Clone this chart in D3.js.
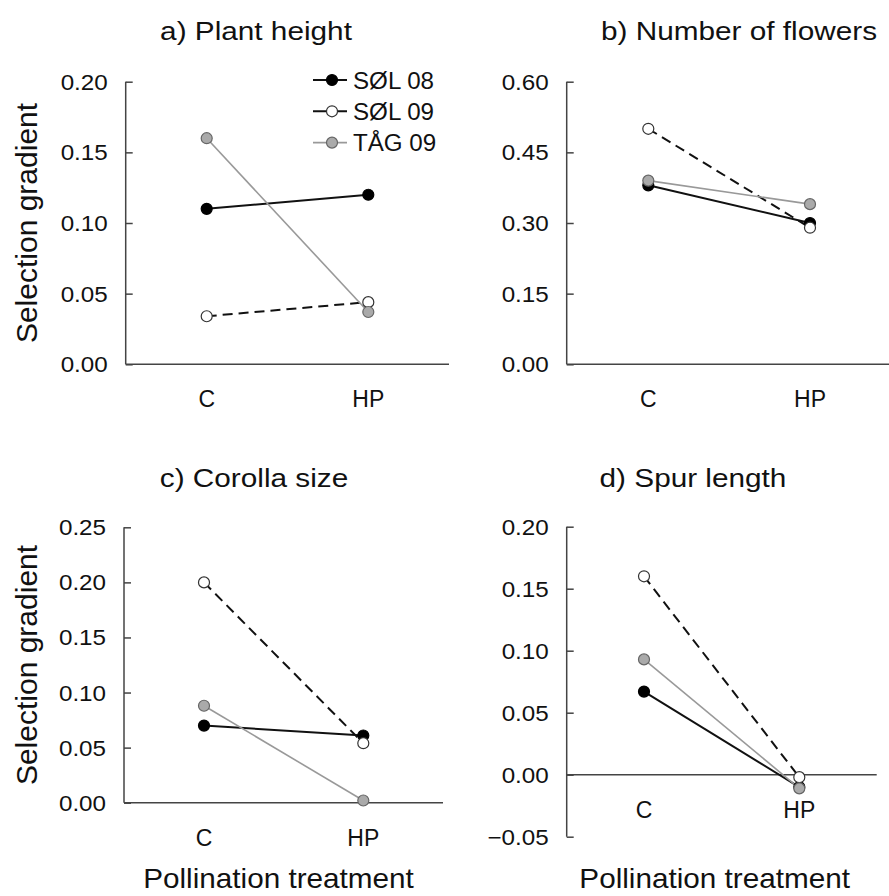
<!DOCTYPE html>
<html>
<head>
<meta charset="utf-8">
<script src="https://cdn.jsdelivr.net/npm/d3@7"></script>
<style>
  html, body { margin: 0; padding: 0; background: #fff; }
  svg { display: block; }
  text { font-family: "Liberation Sans", Arial, sans-serif; fill: #111; }
</style>
</head>
<body>
<svg id="chart" width="889" height="896"></svg>
<script>
// ---------- data ----------
const categories = ["C", "HP"];
const seriesNames = ["SØL 08", "SØL 09", "TÅG 09"];

// values per series: [C, HP]
const plantHeight    = [[0.110, 0.120], [0.034, 0.044], [0.160, 0.037]];
const numberFlowers  = [[0.380, 0.300], [0.500, 0.290], [0.390, 0.340]];
const corollaSize    = [[0.070, 0.061], [0.200, 0.054], [0.088, 0.002]];
const spurLength     = [[0.067, -0.010], [0.160, -0.002], [0.093, -0.011]];

const plantHeightTicks   = [0.00, 0.05, 0.10, 0.15, 0.20];
const numberFlowersTicks = [0.00, 0.15, 0.30, 0.45, 0.60];
const corollaSizeTicks   = [0.00, 0.05, 0.10, 0.15, 0.20, 0.25];
const spurLengthTicks    = [-0.05, 0.00, 0.05, 0.10, 0.15, 0.20];

const panelTitles = ["a) Plant height", "b) Number of flowers", "c) Corolla size", "d) Spur length"];
const yAxisTitle = "Selection gradient";
const xAxisTitle = "Pollination treatment";

// ---------- styles ----------
const seriesStyle = [
  { stroke: "#111", width: 2, dash: null, fill: "#000", mstroke: "#000" },
  { stroke: "#111", width: 2, dash: "10,6", fill: "#fff", mstroke: "#333" },
  { stroke: "#999", width: 1.6, dash: null, fill: "#aaa", mstroke: "#666" }
];
const axisColor = "#444";

// ---------- layout ----------
const panels = [
  { values: plantHeight, ticks: plantHeightTicks, title: panelTitles[0],
    ax: 125.7, top: 81.7, bottom: 364.3, xEnd: 449, cx: [206.7, 368.3], titleX: 256, titleY: 40, yTitle: true, xTitle: false, legend: true },
  { values: numberFlowers, ticks: numberFlowersTicks, title: panelTitles[1],
    ax: 566.7, top: 81.7, bottom: 364.3, xEnd: 889, cx: [648.3, 810], titleX: 739, titleY: 40, yTitle: false, xTitle: false },
  { values: corollaSize, ticks: corollaSizeTicks, title: panelTitles[2],
    ax: 124, top: 527.3, bottom: 802.7, xEnd: 443, cx: [204, 363.3], titleX: 254, titleY: 487, yTitle: true, xTitle: true },
  { values: spurLength, ticks: spurLengthTicks, title: panelTitles[3],
    ax: 566.7, top: 526.7, bottom: 836.7, xEnd: 876.7, cx: [644, 799.3], titleX: 693, titleY: 487, yTitle: false, xTitle: true }
];

const svg = d3.select("#chart");
const fmt = d3.format(".2f");

function stretchedText(parent, x, y, str, size, k, anchor) {
  return parent.append("g")
    .attr("transform", `translate(${x},${y}) scale(${k},1)`)
    .append("text")
    .attr("text-anchor", anchor)
    .attr("font-size", size)
    .text(str);
}

panels.forEach(p => {
  const g = svg.append("g");
  const dom = d3.extent(p.ticks);
  const y = d3.scaleLinear().domain(dom).range([p.bottom, p.top]);
  const x = d3.scalePoint().domain(categories).range(p.cx).padding(0);
  const zeroY = y(0);

  // y axis (ticks inward)
  const yAxis = d3.axisRight(y).tickValues(p.ticks).tickSize(7).tickFormat("");
  const ya = g.append("g").attr("transform", `translate(${p.ax},0)`).call(yAxis);
  ya.select(".domain").attr("stroke", axisColor).attr("stroke-width", 1.5).attr("d", `M0,${p.top}V${p.bottom}`);
  ya.selectAll(".tick line").attr("stroke", axisColor).attr("stroke-width", 1.5);

  // tick labels
  p.ticks.forEach(t => {
    stretchedText(g, p.ax - 18, y(t) + 8, fmt(t), 22, 1.1, "end");
  });

  // x axis / zero line
  g.append("line")
    .attr("x1", p.ax).attr("x2", p.xEnd)
    .attr("y1", zeroY).attr("y2", zeroY)
    .attr("stroke", axisColor).attr("stroke-width", 1.5);

  // category labels
  categories.forEach(c => {
    stretchedText(g, x(c), zeroY + 43, c, 23, 1.0, "middle");
  });

  // title
  stretchedText(g, p.titleX, p.titleY, p.title, 25, 1.19, "middle");

  // axis titles
  if (p.yTitle) {
    g.append("text")
      .attr("transform", `translate(37,${(p.top + p.bottom) / 2}) rotate(-90)`)
      .attr("text-anchor", "middle")
      .attr("font-size", 30)
      .text(yAxisTitle);
  }
  if (p.xTitle) {
    stretchedText(g, (p.ax + p.xEnd) / 2 - 5 + (p.ax > 300 ? -2 : 0), 888, xAxisTitle, 27, 1.1, "middle");
  }

  // series lines
  const line = d3.line().x((d, i) => x(categories[i])).y(d => y(d));
  p.values.forEach((vals, si) => {
    const s = seriesStyle[si];
    g.append("path")
      .datum(vals)
      .attr("d", line)
      .attr("fill", "none")
      .attr("stroke", s.stroke)
      .attr("stroke-width", s.width)
      .attr("stroke-dasharray", s.dash);
  });
  // markers
  p.values.forEach((vals, si) => {
    const s = seriesStyle[si];
    g.selectAll(null).data(vals).enter().append("circle")
      .attr("cx", (d, i) => x(categories[i]))
      .attr("cy", d => y(d))
      .attr("r", 5.5)
      .attr("fill", s.fill)
      .attr("stroke", s.mstroke)
      .attr("stroke-width", 1.2);
  });

  // legend
  if (p.legend) {
    const lg = g.append("g");
    seriesNames.forEach((name, si) => {
      const s = seriesStyle[si];
      const cy = 80 + si * 31.3;
      lg.append("line").attr("x1", 313).attr("x2", 347).attr("y1", cy).attr("y2", cy)
        .attr("stroke", s.stroke).attr("stroke-width", s.width);
      lg.append("circle").attr("cx", 332).attr("cy", cy).attr("r", 5.5)
        .attr("fill", s.fill).attr("stroke", s.mstroke).attr("stroke-width", 1.2);
      stretchedText(lg, 353, cy + 8.5, name, 23, 1.05, "start");
    });
  }
});
</script>
</body>
</html>
